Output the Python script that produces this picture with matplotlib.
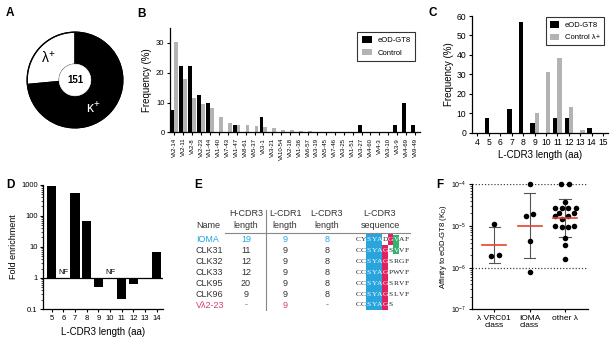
import matplotlib
matplotlib.use("Agg")
import matplotlib.pyplot as plt
import numpy as np
from matplotlib.patches import Rectangle, Circle

plt.rcParams['font.family'] = ['Liberation Sans', 'DejaVu Sans']
plt.rcParams['mathtext.fontset'] = 'custom'
plt.rcParams['mathtext.rm'] = 'Liberation Sans'
plt.rcParams['mathtext.it'] = 'Liberation Sans:italic'
plt.rcParams['mathtext.bf'] = 'Liberation Sans:bold'
plt.rcParams['axes.linewidth'] = 0.9
plt.rcParams['xtick.major.width'] = 0.8
plt.rcParams['ytick.major.width'] = 0.8

# ---------------- data ----------------
# A
chain_labels = ['λ$^{+}$', 'κ$^{+}$']
chain_counts = [40, 111]
total_label = '151'

# B
vl_genes = ['Vλ2-14', 'Vλ2-11', 'Vλ2-8', 'Vλ2-23', 'Vλ1-44', 'Vλ1-40', 'Vλ7-43',
            'Vλ1-47', 'Vλ8-61', 'Vλ5-37', 'Vλ3-1', 'Vλ3-21', 'Vλ10-54', 'Vλ2-18',
            'Vλ1-36', 'Vλ6-57', 'Vλ3-19', 'Vλ5-45', 'Vλ7-46', 'Vλ3-25', 'Vλ1-51',
            'Vλ3-27', 'Vλ4-60', 'Vλ4-3', 'Vλ3-10', 'Vλ3-9', 'Vλ4-69', 'Vλ9-49']
b_eod = [7.4, 22.4, 22.4, 12.4, 10.0, 0, 0, 2.4, 0, 0, 5.0, 0, 0, 0,
         0, 0, 0, 0, 0, 0, 0, 2.4, 0, 0, 0, 2.4, 10.0, 2.4]
b_ctrl = [30.2, 17.8, 11.6, 9.4, 8.3, 5.0, 3.0, 2.4, 2.4, 2.2, 1.9, 1.4, 0.9, 0.8,
          0.5, 0.3, 0.2, 0.2, 0.2, 0.15, 0.1, 0.1, 0.1, 0.1, 0.1, 0.1, 0.1, 0.1]

# C
c_lengths = [4, 5, 6, 7, 8, 9, 10, 11, 12, 13, 14, 15]
c_eod = [0, 7.4, 0, 12.2, 57.0, 4.8, 0, 7.4, 7.4, 0, 2.2, 0]
c_ctrl = [0, 0, 0, 0, 0, 10.3, 31.0, 38.3, 13.0, 1.4, 0, 0]

# D
d_ticks = [5, 6, 7, 8, 9, 10, 11, 12, 13, 14]
d_lengths = [5, 7, 8, 9, 11, 12, 14]
d_fold = [906, 526, 69.5, 0.526, 0.21, 0.625, 6.86]
d_nf = [6, 10]

# E
e_names = ['IOMA', 'CLK31', 'CLK32', 'CLK33', 'CLK95', 'CLK96', 'Vλ2-23']
e_hcdr3 = ['19', '11', '12', '12', '20', '9', '-']
e_lcdr1 = ['9', '9', '9', '9', '9', '9', '9']
e_lcdr3 = ['8', '8', '8', '8', '8', '8', '-']
e_seqs = ['CYSYADGVAF', 'CCSYAGSVVF', 'CCSYAGSRGF', 'CCSYAGPWVF',
          'CCSYAGSRVF', 'CCSYAGSLVF', 'CCSYAGS']
e_red_idx = [6, 5, 5, 5, 5, 5, 5]
e_green_idx = [7, 7, None, None, None, None, None]

# F
f_groups = ['λ VRC01\nclass', 'IOMA\nclass', 'other λ']
f_vrc01 = [1.1e-5, 1.95e-6, 2.0e-6]
f_vrc01_dx = [0.0, -0.08, 0.12]
f_ioma = [1e-4, 1.7e-5, 1.9e-5, 4.3e-6, 8e-7]
f_ioma_dx = [0.0, -0.09, 0.09, 0.0, 0.0]
f_other = [1e-4, 1e-4, 3.8e-5, 2.7e-5, 2.7e-5, 2.7e-5, 2.7e-5, 2.0e-5, 2.0e-5,
           1.75e-5, 1.75e-5, 1.5e-5, 1.0e-5, 1.0e-5, 9.2e-6, 9.2e-6, 5.1e-6,
           3.5e-6, 1.6e-6]
f_other_dx = [-0.1, 0.1, 0.0, -0.27, -0.08, 0.09, 0.32, -0.18, 0.24,
              -0.27, 0.09, -0.08, -0.27, 0.24, -0.08, 0.09, 0.0, 0.0, 0.0]
f_mean = [3.5e-6, 1.0e-5, 1.58e-5]
f_err_lo = [1.3e-6, 1.66e-6, 5.5e-6]
f_err_hi = [9.5e-6, 6.2e-5, 4.45e-5]

# ---------------- figure ----------------
W, H = 615, 340
fig = plt.figure(figsize=(W / 100, H / 100), dpi=100)


def px_axes(x0, y0, x1, y1, **kw):
    return fig.add_axes([x0 / W, 1 - y1 / H, (x1 - x0) / W, (y1 - y0) / H], **kw)


def style(ax):
    for s in ['top', 'right']:
        ax.spines[s].set_visible(False)
    ax.tick_params(length=2.5, width=0.8, pad=1.5)


GRAY = '#b3b3b3'

# ---------- A ----------
axA = px_axes(20, 25, 130, 135)
axA.pie(chain_counts, colors=['white', 'black'], startangle=90, counterclock=True,
        radius=1.0, wedgeprops=dict(width=0.67, edgecolor='black', linewidth=0.9))
axA.add_patch(Circle((0, 0), 1.0, fill=False, edgecolor='black', lw=0.9))
axA.add_patch(Circle((0, 0), 0.33, facecolor='white', edgecolor='white', lw=0.5, zorder=5))
axA.text(0, 0, total_label, ha='center', va='center', fontsize=7, fontweight='bold', zorder=6)
axA.text(-0.56, 0.46, chain_labels[0], ha='center', va='center', fontsize=10, color='black')
axA.text(0.38, -0.58, chain_labels[1], ha='center', va='center', fontsize=10, color='white')
axA.set_xlim(-1.15, 1.15)
axA.set_ylim(-1.15, 1.15)
axA.set_aspect('equal')
axA.axis('off')

# ---------- B ----------
axB = px_axes(170, 28, 420, 132.3)
xb = np.arange(len(vl_genes))
axB.bar(xb - 0.21, b_eod, width=0.42, color='black', label='eOD-GT8')
axB.bar(xb + 0.21, b_ctrl, width=0.42, color=GRAY, label='Control')
axB.set_xlim(-0.48, len(vl_genes) - 0.44)
axB.set_ylim(0, 35)
axB.set_yticks([0, 10, 20, 30])
axB.set_xticks(xb)
axB.set_xticklabels(vl_genes, rotation=90, fontsize=4.3)
axB.tick_params(axis='y', labelsize=5.5)
style(axB)
axB.set_ylabel('Frequency (%)', fontsize=7, labelpad=3)
legB = axB.legend(loc='upper right', bbox_to_anchor=(0.995, 1.0), fontsize=5.5,
                  frameon=True, fancybox=False, edgecolor='black', handlelength=1.3,
                  handleheight=0.9, borderpad=0.6, labelspacing=0.6, handletextpad=0.7)
legB.get_frame().set_linewidth(0.8)

# ---------- C ----------
axC = px_axes(471.7, 16, 607.7, 132.7)
xc = np.array(c_lengths)
axC.bar(xc - 0.19, c_eod, width=0.38, color='black', label='eOD-GT8')
axC.bar(xc + 0.19, c_ctrl, width=0.38, color=GRAY, label='Control λ+')
axC.set_xlim(3.5, 15.4)
axC.set_ylim(0, 60)
axC.set_xticks(c_lengths)
axC.set_yticks([0, 10, 20, 30, 40, 50, 60])
axC.tick_params(labelsize=6.2)
style(axC)
axC.set_ylabel('Frequency (%)', fontsize=7, labelpad=2)
axC.set_xlabel('L-CDR3 length (aa)', fontsize=7, labelpad=2)
legC = axC.legend(loc='upper right', bbox_to_anchor=(1.0, 1.02), fontsize=5.5,
                  frameon=True, fancybox=False, edgecolor='black', handlelength=1.3,
                  handleheight=0.9, borderpad=0.5, labelspacing=0.6, handletextpad=0.7)
legC.get_frame().set_linewidth(0.8)

# ---------- D ----------
axD = px_axes(43.3, 184.7, 163, 309)
axD.set_yscale('log')
heights = [v - 1 for v in d_fold]
axD.bar(d_lengths, heights, bottom=1, width=0.8, color='black')
axD.axhline(1, color='black', lw=0.9)
for x in d_nf:
    axD.text(x, 1.15, 'NF', ha='center', va='bottom', fontsize=5.5)
axD.set_xlim(4.28, 14.54)
axD.set_ylim(0.1, 1000)
axD.set_xticks(d_ticks)
axD.set_yticks([0.1, 1, 10, 100, 1000])
axD.set_yticklabels(['0.1', '1', '10', '100', '1000'])
axD.tick_params(labelsize=5.5)
axD.tick_params(axis='y', which='minor', length=1.3, width=0.5)
style(axD)
axD.set_ylabel('Fold enrichment', fontsize=6.5, labelpad=2)
axD.set_xlabel('L-CDR3 length (aa)', fontsize=7, labelpad=4)

# ---------- F ----------
axF = px_axes(471.7, 184.3, 588, 309.3)
axF.set_yscale('log')
axF.set_ylim(1e-7, 1e-4)
axF.set_xlim(-0.64, 2.65)
for yv in [1e-4, 1e-6]:
    axF.axhline(yv, color='#444444', lw=0.9, ls=(0, (1, 1.5)), zorder=1)
groups_vals = [f_vrc01, f_ioma, f_other]
groups_dx = [f_vrc01_dx, f_ioma_dx, f_other_dx]
for i, (vals, dxs) in enumerate(zip(groups_vals, groups_dx)):
    axF.plot([i - 0.16, i + 0.16], [f_err_hi[i]] * 2, color='#555555', lw=0.8, zorder=2)
    axF.plot([i - 0.16, i + 0.16], [f_err_lo[i]] * 2, color='#555555', lw=0.8, zorder=2)
    axF.plot([i, i], [f_err_lo[i], f_err_hi[i]], color='#555555', lw=0.8, zorder=2)
    axF.scatter(np.array(dxs) + i, vals, s=16, color='black', zorder=3, linewidths=0, clip_on=False)
    axF.plot([i - 0.34, i + 0.34], [f_mean[i]] * 2, color='#e8412f', lw=1.2, zorder=4)
axF.set_xticks([0, 1, 2])
axF.set_xticklabels(f_groups, fontsize=6, linespacing=1.1)
axF.set_yticks([1e-7, 1e-6, 1e-5, 1e-4])
axF.tick_params(axis='y', labelsize=5)
axF.tick_params(axis='y', which='minor', length=1.3, width=0.5)
axF.tick_params(axis='x', length=0)
style(axF)
axF.set_ylabel('Affinity to eOD-GT8 (K$_\\mathregular{D}$)', fontsize=5.5, labelpad=1)

# ---------- E (table) ----------
axE = px_axes(186, 200, 420, 315)
axE.set_xlim(186, 420)
axE.set_ylim(315, 200)
axE.axis('off')
CYAN = '#1fa8df'
PINK = '#d63a78'
BLUEBOX = '#2aa4dd'
REDBOX = '#e2215f'
GREENBOX = '#2fb56f'
TXT = '#333333'
hdr_fs = 6.5
col_x = [246, 285, 326.7, 380]
hdr1 = ['H-CDR3', 'L-CDR1', 'L-CDR3', 'L-CDR3']
hdr2 = ['length', 'length', 'length', 'sequence']
for x, a, b in zip(col_x, hdr1, hdr2):
    axE.text(x, 213, a, ha='center', va='center', fontsize=hdr_fs, color=TXT)
    axE.text(x, 225.5, b, ha='center', va='center', fontsize=hdr_fs, color=TXT)
axE.text(196, 225.5, 'Name', ha='left', va='center', fontsize=hdr_fs, color=TXT)
axE.plot([225, 410], [232.7, 232.7], color='#888888', lw=0.8)
axE.plot([266, 266], [210, 310], color='#888888', lw=0.8)

row_y0, row_dy = 239.3, 10.95
seq_x0, pitch = 357.7, 5.5
for r, name in enumerate(e_names):
    y = row_y0 + r * row_dy
    if r == 0:
        cname, c1, c2, c3 = CYAN, CYAN, CYAN, CYAN
    elif r == len(e_names) - 1:
        cname, c1, c2, c3 = PINK, '#777777', PINK, '#777777'
    else:
        cname = c1 = c2 = c3 = TXT
    axE.text(196, y, name, ha='left', va='center', fontsize=6.5, color=cname)
    axE.text(col_x[0], y, e_hcdr3[r], ha='center', va='center', fontsize=6.5, color=c1)
    axE.text(col_x[1], y, e_lcdr1[r], ha='center', va='center', fontsize=6.5, color=c2)
    axE.text(col_x[2], y, e_lcdr3[r], ha='center', va='center', fontsize=6.5, color=c3)
    seq = e_seqs[r]
    axE.add_patch(Rectangle((seq_x0 + 2 * pitch - pitch / 2, y - row_dy / 2), 3 * pitch, row_dy,
                            facecolor=BLUEBOX, edgecolor='none', zorder=1))
    axE.add_patch(Rectangle((seq_x0 + e_red_idx[r] * pitch - pitch / 2, y - row_dy / 2), pitch, row_dy,
                            facecolor=REDBOX, edgecolor='none', zorder=1))
    if e_green_idx[r] is not None:
        gy = y - row_dy / 2 + (1.5 if r == 0 else 0)
        axE.add_patch(Rectangle((seq_x0 + e_green_idx[r] * pitch - pitch / 2, gy), pitch,
                                row_dy - 1.5, facecolor=GREENBOX, edgecolor='none', zorder=1))
    for i, ch in enumerate(seq):
        boxed = (2 <= i <= 4) or i == e_red_idx[r] or i == e_green_idx[r]
        axE.text(seq_x0 + i * pitch, y, ch, ha='center', va='center', fontsize=5.4,
                 family=['Liberation Serif', 'DejaVu Serif'],
                 color='white' if boxed else '#222222', zorder=2)

# ---------- panel labels ----------
for lab, (x, y) in zip('ABCDEF', [(10, 13.5), (141, 14), (433, 12.5), (10, 185),
                                  (198, 185.5), (439.5, 185.5)]):
    fig.text(x / W, 1 - y / H, lab, ha='center', va='center', fontsize=8.5, fontweight='bold')

fig.savefig('out.png', dpi=100)
